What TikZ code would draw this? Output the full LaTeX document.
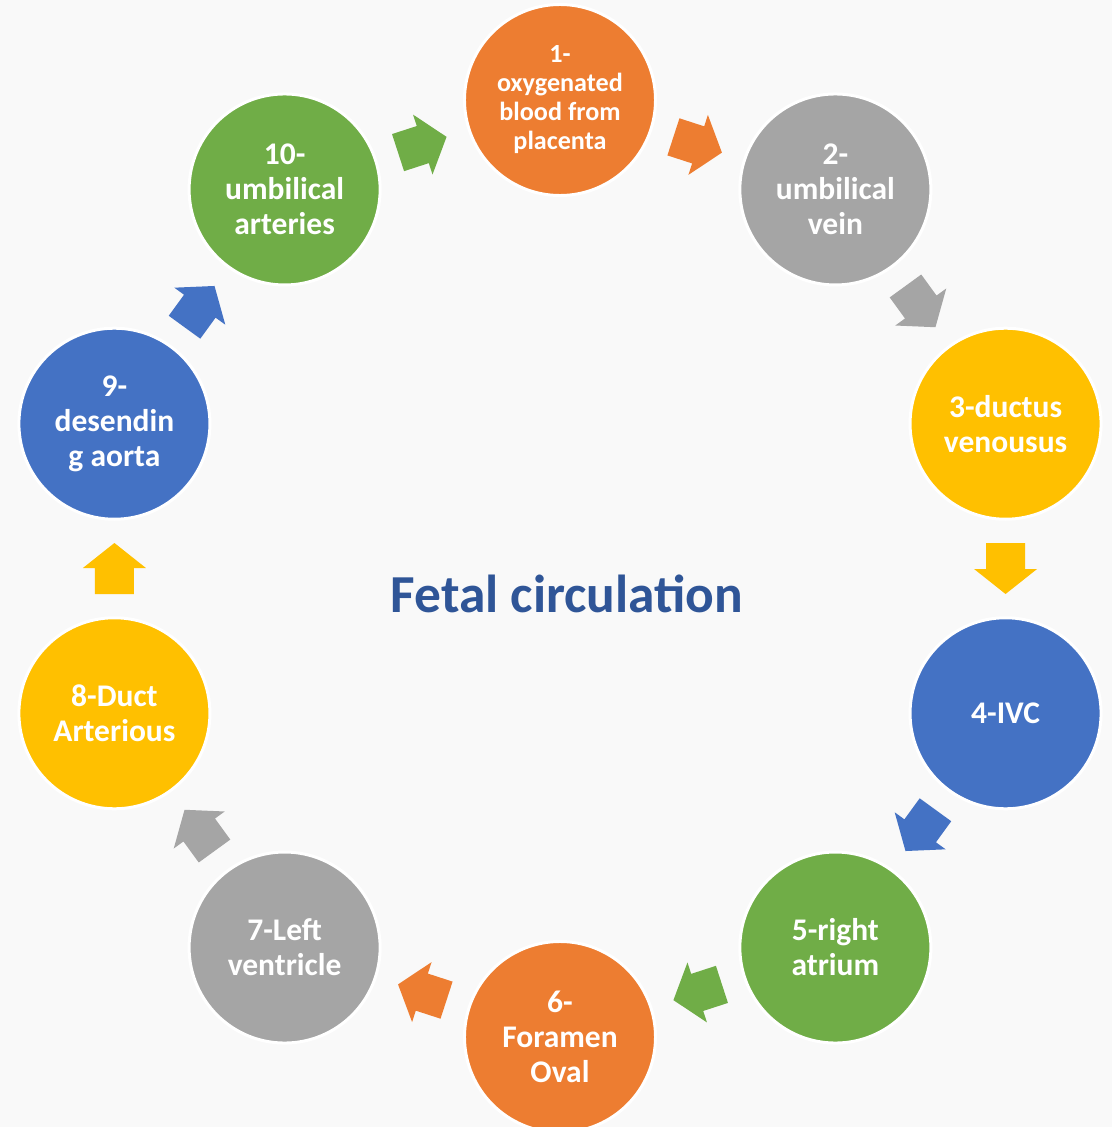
\documentclass[tikz,border=0pt]{standalone}
\usepackage{fontspec}
\setmainfont{Carlito}
\usepackage{tikz}
\usetikzlibrary{calc}
\definecolor{orangeC}{HTML}{ED7D31}
\definecolor{grayC}{HTML}{A5A5A5}
\definecolor{goldC}{HTML}{FFC000}
\definecolor{blueC}{HTML}{4472C4}
\definecolor{greenC}{HTML}{70AD47}
\definecolor{titleC}{HTML}{2F5597}
\definecolor{bgC}{HTML}{F9F9F9}
\tikzset{
  stage/.style={circle, draw=white, line width=0.075cm, minimum size=4.775cm,
    inner sep=0pt, text=white, align=center},
}

\begin{document}
\begin{tikzpicture}[x=0.025cm,y=0.025cm]
      \fill[bgC] (-560,-558.5) rectangle (552,568.5);
      \useasboundingbox (-560,-558.5) rectangle (552,568.5);
      \foreach \i/\col/\fs/\ls/\txt in {
        1/orangeC/18.6/20.6/{1-\\oxygenated\\blood from\\placenta},
        2/grayC/22.4/24.9/{2-\\umbilical\\vein},
        3/goldC/22.4/24.9/{3-ductus\\venousus},
        4/blueC/22.4/24.9/{4-IVC},
        5/greenC/22.4/24.9/{5-right\\atrium},
        6/orangeC/22.4/24.9/{6-\\Foramen\\Oval},
        7/grayC/22.4/24.9/{7-Left\\ventricle},
        8/goldC/22.4/24.9/{8-Duct\\Arterious},
        9/blueC/22.4/24.9/{9-\\desendin\\g aorta},
        10/greenC/22.4/24.9/{10-\\umbilical\\arteries}}
      \node[stage, fill=\col, font=\bfseries\fontsize{\fs}{\ls}\selectfont]
        (c\i) at ({90-36*(\i-1)}:468.5) {\txt};
      % block arrows half way between the circles
      \foreach \i/\j/\col in {1/2/orangeC,2/3/grayC,3/4/goldC,4/5/blueC,5/6/greenC,
        6/7/orangeC,7/8/grayC,8/9/goldC,9/10/blueC,10/1/greenC}
      {
        \coordinate (m\i) at ($(c\i)!0.5!(c\j)$);
        \fill[\col, shift={(m\i)}, rotate={-18-36*(\i-1)}]
          (-25.5,-19.5) -- (0.5,-19.5) -- (0.5,-31.5) -- (25.5,0)
          -- (0.5,31.5) -- (0.5,19.5) -- (-25.5,19.5) -- cycle;
      }
      \node[text=titleC, font=\bfseries\fontsize{38}{40}\selectfont, anchor=base]
        (title) at (7,-43.5) {Fetal circulation};
\end{tikzpicture}
\end{document}
